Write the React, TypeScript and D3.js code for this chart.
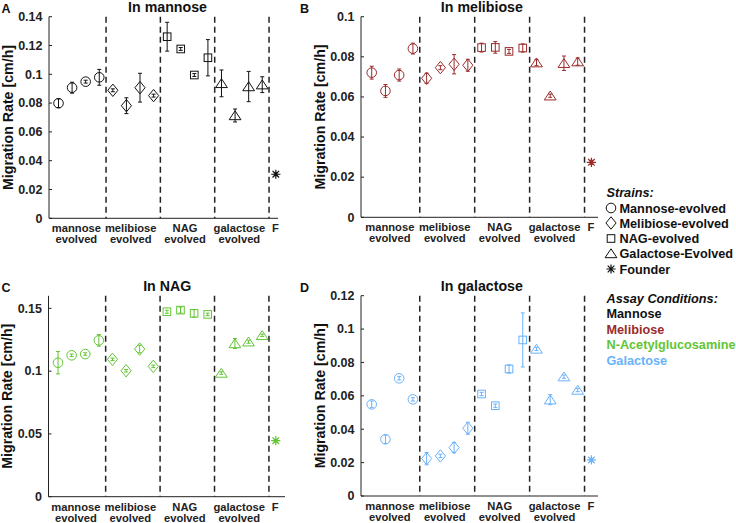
import React from "react";
import * as d3 from "d3";

// ---------- DATA ----------
const strainNames = ["Mannose-evolved", "Melibiose-evolved", "NAG-evolved", "Galactose-Evolved", "Founder"];
const strainShapes = ["circle", "diamond", "square", "triangle", "star"];
const groupLabels = [["mannose", "evolved"], ["melibiose", "evolved"], ["NAG", "evolved"], ["galactose", "evolved"], ["F"]];
const assayNames = ["Mannose", "Melibiose", "N-Acetylglucosamine", "Galactose"];
const assayColors = ["#111111", "#9b2a2a", "#62c534", "#6ab2fa"];

// in mannose: 16 evolved strains (4 per group) then founder
const mannoseMean = [0.0799, 0.0907, 0.0949, 0.0979, 0.0889, 0.0782, 0.0907, 0.0852, 0.1261, 0.1176, 0.0995, 0.1115, 0.0937, 0.0714, 0.0915, 0.0928, 0.0306];
const mannoseErr = [0.003, 0.0038, 0.001, 0.0055, 0.001, 0.0055, 0.010, 0.001, 0.010, 0.001, 0.001, 0.0126, 0.0093, 0.0045, 0.0105, 0.0055, 0.001];
// in melibiose
const melibioseMean = [0.0721, 0.0630, 0.0709, 0.0841, 0.0693, 0.0746, 0.0763, 0.0758, 0.0846, 0.0847, 0.0827, 0.0844, 0.0771, 0.0606, 0.0768, 0.0776, 0.0274];
const melibioseErr = [0.0032, 0.0032, 0.003, 0.0027, 0.0025, 0.001, 0.0048, 0.003, 0.0022, 0.0029, 0.001, 0.002, 0.0015, 0.0008, 0.0036, 0.0018, 0.001];
// in NAG
const nagMean = [0.1067, 0.1126, 0.1136, 0.1245, 0.1094, 0.1003, 0.1176, 0.1038, 0.1473, 0.1486, 0.1460, 0.1452, 0.0985, 0.1220, 0.1234, 0.1285, 0.0446];
const nagErr = [0.0089, 0.001, 0.001, 0.0046, 0.001, 0.001, 0.003, 0.001, 0.0012, 0.0024, 0.003, 0.001, 0.001, 0.004, 0.0012, 0.001, 0.001];
// in galactose
const galactoseMean = [0.0549, 0.0340, 0.0705, 0.0579, 0.0224, 0.0240, 0.0290, 0.0406, 0.0611, 0.0541, 0.0761, 0.0935, 0.0881, 0.0577, 0.0715, 0.0635, 0.0216];
const galactoseErr = [0.002, 0.0025, 0.001, 0.001, 0.0037, 0.001, 0.003, 0.0036, 0.001, 0.001, 0.0025, 0.0162, 0.001, 0.003, 0.001, 0.001, 0.001];

const mannoseTicks = [0, 0.02, 0.04, 0.06, 0.08, 0.1, 0.12, 0.14];
const melibioseTicks = [0, 0.02, 0.04, 0.06, 0.08, 0.1];
const nagTicks = [0, 0.05, 0.1, 0.15];
const galactoseTicks = [0, 0.02, 0.04, 0.06, 0.08, 0.1, 0.12];

// ---------- DRAWING ----------
const FONT = "'Liberation Sans', Arial, Helvetica, sans-serif";

function Marker({ shape, cx, cy, color }: { shape: string; cx: number; cy: number; color: string }) {
  const common = { fill: "none", stroke: color, strokeWidth: 1 };
  if (shape === "circle") return <circle cx={cx} cy={cy} r={4.8} {...common} />;
  if (shape === "diamond")
    return <path d={`M${cx},${cy - 6.2}L${cx + 5.1},${cy}L${cx},${cy + 6.2}L${cx - 5.1},${cy}Z`} {...common} />;
  if (shape === "square") return <rect x={cx - 3.8} y={cy - 3.8} width={7.6} height={7.6} {...common} />;
  if (shape === "triangle")
    return <path d={`M${cx},${cy - 4.7}L${cx + 5.9},${cy + 4.2}L${cx - 5.9},${cy + 4.2}Z`} {...common} />;
  // star (asterisk)
  const r = 4.6, q = 3.3;
  return (
    <path
      d={`M${cx - r},${cy}L${cx + r},${cy}M${cx},${cy - r}L${cx},${cy + r}M${cx - q},${cy - q}L${cx + q},${cy + q}M${cx - q},${cy + q}L${cx + q},${cy - q}`}
      {...common}
      strokeWidth={1.2}
    />
  );
}

type PanelProps = {
  letter: string;
  title: string;
  mean: number[];
  err: number[];
  ticks: number[];
  color: string;
  left: number;
  right: number;
  xMin: number;
  xMax: number;
  top: number;
  bottom: number;
  yMax: number;
  letterX: number;
};

function Panel(p: PanelProps) {
  const x = d3.scaleLinear().domain([p.xMin, p.xMax]).range([p.left, p.right]);
  const y = d3.scaleLinear().domain([0, p.yMax]).range([p.bottom, p.top]);
  const fmt = (v: number) => String(+v.toFixed(2));
  const pointX = (i: number) => (i < 16 ? Math.floor(i / 4) * 4 + (i % 4) + 1 : 17);
  const dividers = [4.5, 8.5, 12.5, 16.5];
  const groupCenters = [2.5, 6.5, 10.5, 14.5, 17];
  const plotMid = (x(0.3) + x(17.16)) / 2 + 4;
  return (
    <g>
      <text x={p.letterX} y={p.top - 3.5} fontFamily={FONT} fontWeight="bold" fontSize={12.5} fill="#111">
        {p.letter}
      </text>
      <text x={plotMid} y={p.top - 4.8} textAnchor="middle" fontFamily={FONT} fontWeight="bold" fontSize={14.2} fill="#111">
        {p.title}
      </text>
      <text
        transform={`translate(${p.left - 36.3},${(p.top + p.bottom) / 2}) rotate(-90)`}
        textAnchor="middle"
        fontFamily={FONT}
        fontWeight="bold"
        fontSize={14.2}
        fill="#111"
      >
        Migration Rate [cm/h]
      </text>
      {/* dashed dividers */}
      {dividers.map((d) => (
        <line key={d} x1={x(d)} x2={x(d)} y1={p.top} y2={p.bottom} stroke="#222" strokeWidth={1.5} strokeDasharray="6,4" />
      ))}
      {/* axes */}
      <line x1={p.left} x2={p.left} y1={p.top} y2={p.bottom} stroke="#222" strokeWidth={1} />
      <line x1={p.left} x2={p.right} y1={p.bottom} y2={p.bottom} stroke="#222" strokeWidth={1} />
      {p.ticks.map((t) => (
        <g key={t}>
          <line x1={p.left} x2={p.left + 3} y1={y(t)} y2={y(t)} stroke="#222" strokeWidth={1} />
          <text x={p.left - 6.5} y={y(t) + 4.3} textAnchor="end" fontFamily={FONT} fontWeight="bold" fontSize={12.5} fill="#222">
            {fmt(t)}
          </text>
        </g>
      ))}
      {/* group labels */}
      {groupLabels.map((lines, gi) => (
        <text key={gi} textAnchor="middle" fontFamily={FONT} fontWeight="bold" fontSize={11.2} fill="#222">
          {lines.map((ln, li) => (
            <tspan key={li} x={x(groupCenters[gi]) - (gi < 4 ? 2.5 : 0.5)} y={p.bottom + 14 + li * 11}>
              {ln}
            </tspan>
          ))}
        </text>
      ))}
      {/* points */}
      {p.mean.map((m, i) => {
        const cx = x(pointX(i));
        const e = p.err[i];
        const shape = i < 16 ? strainShapes[Math.floor(i / 4)] : strainShapes[4];
        return (
          <g key={i}>
            <line x1={cx} x2={cx} y1={y(m - e)} y2={y(m + e)} stroke={p.color} strokeWidth={1} />
            <line x1={cx - 2} x2={cx + 2} y1={y(m - e)} y2={y(m - e)} stroke={p.color} strokeWidth={1} />
            <line x1={cx - 2} x2={cx + 2} y1={y(m + e)} y2={y(m + e)} stroke={p.color} strokeWidth={1} />
            <Marker shape={shape} cx={cx} cy={y(m)} color={p.color} />
          </g>
        );
      })}
    </g>
  );
}

function Legend() {
  const sx = 611;
  const tx = 619.5;
  const strainY = [212.5, 227.5, 243, 258, 273.5];
  const assayY = [318.3, 334, 349, 365];
  return (
    <g fontFamily={FONT} fontWeight="bold" fontSize={12.7}>
      <text x={606.5} y={196.8} fontStyle="italic" fill="#111">Strains:</text>
      {strainNames.map((n, i) => (
        <g key={n}>
          <Marker shape={strainShapes[i]} cx={sx} cy={strainY[i] - 4.5} color="#111" />
          <text x={tx} y={strainY[i]} fill="#111">{n}</text>
        </g>
      ))}
      <text x={606.5} y={302.5} fontStyle="italic" fill="#111">Assay Conditions:</text>
      {assayNames.map((n, i) => (
        <text key={n} x={606.5} y={assayY[i]} fill={assayColors[i]}>{n}</text>
      ))}
    </g>
  );
}

export default function App() {
  return (
    <svg width={736} height={523} style={{ position: "absolute", left: 0, top: 0, background: "#fff" }}>
      <rect width={736} height={523} fill="#fff" />
      <Panel letter="A" title="In mannose" mean={mannoseMean} err={mannoseErr} ticks={mannoseTicks} color={assayColors[0]}
        left={49} right={278} xMin={0.3} xMax={17.16} top={16.7} bottom={218.3} yMax={0.14} letterX={1.5} />
      <Panel letter="B" title="In melibiose" mean={melibioseMean} err={melibioseErr} ticks={melibioseTicks} color={assayColors[1]}
        left={361} right={598} xMin={0.22} xMax={17.48} top={16.7} bottom={217.3} yMax={0.1} letterX={300} />
      <Panel letter="C" title="In NAG" mean={nagMean} err={nagErr} ticks={nagTicks} color={assayColors[2]}
        left={48.5} right={285} xMin={0.3} xMax={17.68} top={295.8} bottom={496.7} yMax={0.16} letterX={1.5} />
      <Panel letter="D" title="In galactose" mean={galactoseMean} err={galactoseErr} ticks={galactoseTicks} color={assayColors[3]}
        left={361} right={598} xMin={0.22} xMax={17.48} top={295.7} bottom={496} yMax={0.12} letterX={300} />
      <Legend />
    </svg>
  );
}
